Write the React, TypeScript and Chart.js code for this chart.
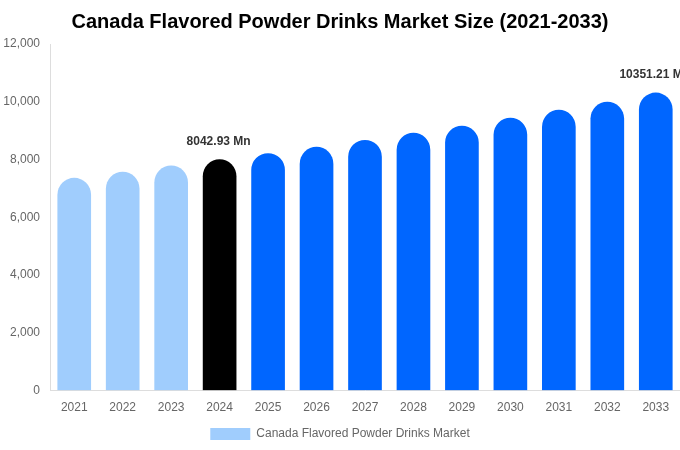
import { useEffect, useRef } from 'react';
import { Chart, registerables } from 'chart.js';

Chart.register(...registerables);

const years = ['2021', '2022', '2023', '2024', '2025', '2026', '2027', '2028', '2029', '2030', '2031', '2032', '2033'];
const marketSize = [7400, 7610, 7825, 8042.93, 8255, 8475, 8715, 8960, 9205, 9480, 9755, 10035, 10351.21];
const barColors = [
  '#a0cdfd', '#a0cdfd', '#a0cdfd', '#000000',
  '#0066ff', '#0066ff', '#0066ff', '#0066ff', '#0066ff', '#0066ff', '#0066ff', '#0066ff', '#0066ff'
];
const labelledYears = ['2024', '2033'];

const FONT = '"Liberation Sans", Arial, sans-serif';

// draws "xxxx Mn" above the highlighted bars
const valueLabels = {
  id: 'valueLabels',
  afterDatasetsDraw(chart: Chart) {
    const ctx = chart.ctx;
    const meta = chart.getDatasetMeta(0);
    ctx.save();
    ctx.font = `bold 12px ${FONT}`;
    ctx.fillStyle = '#333333';
    ctx.textAlign = 'center';
    ctx.textBaseline = 'bottom';
    meta.data.forEach((bar: any, i: number) => {
      if (!labelledYears.includes(years[i])) return;
      ctx.fillText(`${marketSize[i].toFixed(2)} Mn`, bar.x - 1, bar.y - 11);
    });
    ctx.restore();
  }
};

export default function App() {
  const chartRef = useRef<HTMLCanvasElement>(null);
  const chartInstance = useRef<Chart | null>(null);

  useEffect(() => {
    document.body.style.margin = '0';
    if (!chartRef.current) return;
    if (chartInstance.current) chartInstance.current.destroy();

    chartInstance.current = new Chart(chartRef.current, {
      type: 'bar',
      data: {
        labels: years,
        datasets: [
          {
            label: 'Canada Flavored Powder Drinks Market',
            data: marketSize,
            backgroundColor: barColors,
            borderColor: 'rgba(255,255,255,0.3)',
            borderWidth: 1,
            borderRadius: { topLeft: 18, topRight: 18, bottomLeft: 0, bottomRight: 0 },
            borderSkipped: 'bottom',
            barPercentage: 0.92,
            categoryPercentage: 0.8
          }
        ]
      },
      options: {
        animation: false,
        responsive: false,
        maintainAspectRatio: false,
        layout: { padding: 0 },
        scales: {
          x: {
            grid: { display: false, drawTicks: false },
            border: { color: '#dddddd' },
            ticks: { color: '#666666', font: { family: FONT, size: 12 }, padding: 10 }
          },
          y: {
            min: 0,
            max: 12000,
            grid: { display: false, drawTicks: false },
            border: { color: '#dddddd' },
            afterFit: (scale: any) => {
              scale.width = 50;
            },
            ticks: {
              stepSize: 2000,
              color: '#666666',
              font: { family: FONT, size: 12 },
              padding: 10,
              callback: (v: any) => Number(v).toLocaleString('en-US')
            }
          }
        },
        plugins: {
          title: {
            display: true,
            text: 'Canada Flavored Powder Drinks Market Size (2021-2033)',
            color: '#000000',
            font: { family: FONT, size: 20, weight: 'bold' },
            padding: { top: 10, bottom: 10 }
          },
          legend: {
            position: 'bottom',
            labels: {
              color: '#666666',
              font: { family: FONT, size: 12 },
              boxWidth: 40,
              boxHeight: 12,
              padding: 3,
              generateLabels: () => [
                {
                  text: 'Canada Flavored Powder Drinks Market',
                  fillStyle: '#a0cdfd',
                  strokeStyle: '#a0cdfd',
                  lineWidth: 0,
                  hidden: false,
                  datasetIndex: 0,
                  fontColor: '#666666'
                }
              ]
            }
          },
          tooltip: { enabled: false }
        }
      },
      plugins: [valueLabels]
    });

    return () => {
      if (chartInstance.current) {
        chartInstance.current.destroy();
        chartInstance.current = null;
      }
    };
  }, []);

  return (
    <div style={{ width: 680, height: 450, background: '#ffffff' }}>
      <canvas ref={chartRef} width={680} height={450} />
    </div>
  );
}
